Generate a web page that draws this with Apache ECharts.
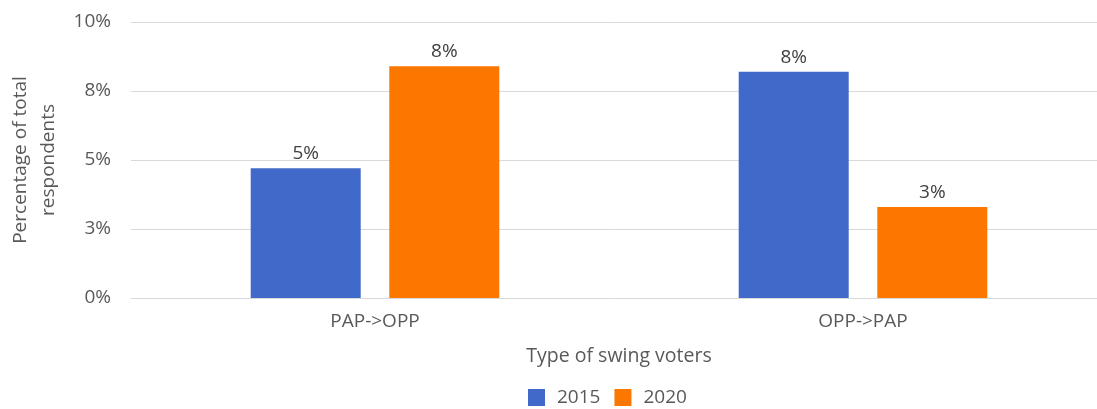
<!DOCTYPE html>
<html>
<head>
<meta charset="utf-8">
<script src="https://cdn.jsdelivr.net/npm/echarts@6/dist/echarts.min.js"></script>
<style>
html,body{margin:0;padding:0;background:#fff;}
#chart{width:1097px;height:409px;}
</style>
</head>
<body>
<div id="chart"></div>
<script>
const categories = ['PAP->OPP', 'OPP->PAP'];
const seriesNames = ['2015', '2020'];
const values2015 = [4.7, 8.2];
const values2020 = [8.4, 3.3];
const yTicks = [0, 2.5, 5, 7.5, 10];

const chart = echarts.init(document.getElementById('chart'));
const font = 'Open Sans, Noto Sans, sans-serif';
const labelCfg = {
  show: true, position: 'top', distance: 5,
  color: '#404040', fontSize: 19, fontFamily: font,
  formatter: p => Math.round(p.value) + '%'
};
chart.setOption({
  animation: false,
  textStyle: { fontFamily: font },
  grid: { left: 131, top: 22, width: 976, height: 276, outerBoundsMode: 'none' },
  legend: {
    data: seriesNames, top: 383, left: 523,
    itemWidth: 17, itemHeight: 17, itemGap: 14,
    textStyle: { fontSize: 19, color: '#595959', fontFamily: font, padding: [0, 0, 0, 7] },
    icon: 'rect'
  },
  xAxis: {
    type: 'category', data: categories,
    name: 'Type of swing voters', nameLocation: 'middle', nameGap: 48,
    nameTextStyle: { fontSize: 19.5, color: '#595959', fontFamily: font },
    axisLine: { show: true, lineStyle: { color: '#d9d9d9' } },
    axisTick: { show: false },
    axisLabel: { fontSize: 19, color: '#595959', margin: 14, fontFamily: font }
  },
  yAxis: {
    type: 'value', min: 0, max: 10, interval: 2.5,
    name: 'Percentage of total\nrespondents', nameLocation: 'middle', nameGap: 66,
    nameTextStyle: { fontSize: 19, color: '#595959', lineHeight: 28, fontFamily: font },
    axisLine: { show: false }, axisTick: { show: false },
    splitLine: { lineStyle: { color: '#d9d9d9' } },
    axisLabel: { fontSize: 19, color: '#595959', margin: 20, fontFamily: font,
      formatter: v => Math.round(v) + '%' }
  },
  series: [
    { name: seriesNames[0], type: 'bar', data: values2015, barWidth: 110, barGap: '26%',
      itemStyle: { color: '#4169C9' }, label: labelCfg },
    { name: seriesNames[1], type: 'bar', data: values2020, barWidth: 110, barGap: '26%',
      itemStyle: { color: '#FB7700' }, label: labelCfg }
  ]
});
</script>
</body>
</html>
